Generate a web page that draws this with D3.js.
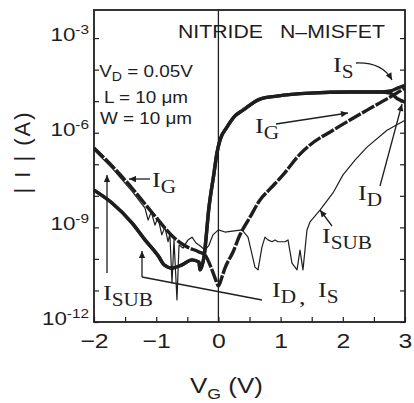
<!DOCTYPE html>
<html>
<head>
<meta charset="utf-8">
<script src="https://cdn.jsdelivr.net/npm/d3@7"></script>
<style>
  body { margin: 0; background: #fff; }
  svg { display: block; }
</style>
</head>
<body>
<svg id="chart" width="414" height="403"></svg>
<script>
// values (V_G in volts, currents in amps)
var vgDS = [-2.0, -1.71, -1.39, -1.18, -0.955, -0.875, -0.746, -0.585, -0.424, -0.312, -0.296, -0.232,
            -0.151, -0.071, -0.023, 0.026, 0.138, 0.267, 0.395, 0.669, 0.942, 1.473, 2.115, 2.598, 2.76, 2.88, 3.0];
var idVals = [1.51e-8, 5.9e-9, 1.38e-9, 4.0e-10, 1.15e-10, 6.5e-11, 5.1e-11, 6.5e-11, 9.3e-11, 7.9e-11, 4.5e-11, 1.15e-10,
              4.4e-9, 5.2e-8, 2.3e-7, 5.9e-7, 1.5e-6, 3.4e-6, 5.2e-6, 1.17e-5, 1.45e-5, 1.8e-5, 1.95e-5, 1.95e-5, 1.8e-5, 1.2e-5, 9.3e-6];
var isVals = [1.51e-8, 5.9e-9, 1.38e-9, 4.0e-10, 1.15e-10, 6.5e-11, 5.1e-11, 6.5e-11, 9.3e-11, 7.9e-11, 4.5e-11, 1.15e-10,
              4.4e-9, 5.2e-8, 2.3e-7, 5.9e-7, 1.5e-6, 3.4e-6, 5.2e-6, 1.17e-5, 1.45e-5, 1.8e-5, 1.95e-5, 1.95e-5, 2.1e-5, 2.6e-5, 3.2e-5];

var vgG = [-2.0, -1.71, -1.39, -1.18, -0.955, -0.746, -0.537, -0.312, -0.215, -0.103, -0.04, 0, 0.058,
           0.106, 0.235, 0.347, 0.508, 0.669, 0.830, 1.039, 1.312, 1.473, 1.842, 2.39, 2.76, 3.0];
var igVals = [3.3e-7, 8.8e-8, 1.77e-8, 5.5e-9, 1.6e-9, 5.4e-10, 2.6e-10, 1.66e-10, 1.32e-10, 4.5e-11, 2.1e-11, 1.4e-11, 2.7e-11,
              5.1e-11, 1.66e-10, 5.8e-10, 2.1e-9, 7.4e-9, 1.65e-8, 4.6e-8, 2.1e-7, 4.1e-7, 1.2e-6, 5.2e-6, 1.35e-5, 2.6e-5];

var vgSub = [-2.0, -1.71, -1.39, -1.18, -1.13, -1.08, -1.02, -0.97, -0.91, -0.86, -0.81, -0.78, -0.746, -0.714,
             -0.666, -0.633, -0.569, -0.489, -0.424, -0.36, -0.296, -0.215, -0.151, -0.087, 0, 0.106, 0.379, 0.476,
             0.588, 0.637, 0.701, 0.749, 0.797, 0.862, 0.910, 0.958, 1.071, 1.119, 1.183, 1.264, 1.312, 1.360,
             1.424, 1.473, 1.633, 1.842, 2.003, 2.196, 2.389, 2.711, 3.0];
var isubVals = [2.8e-7, 7.6e-8, 1.4e-8, 4.1e-9, 1.7e-9, 3.1e-9, 1.18e-9, 2.0e-9, 5.8e-10, 1.0e-9, 3.5e-10, 6.2e-10, 1.74e-11, 4.0e-10,
                5.0e-12, 2.75e-10, 2.2e-10, 4.0e-10, 4.9e-10, 3.2e-10, 2.6e-10, 1.9e-10, 2.75e-10, 5.8e-10, 8.3e-10, 7.1e-10, 8.3e-10, 4.9e-10,
                5.5e-11, 4.5e-11, 2.4e-10, 4.9e-10, 4.0e-10, 3.5e-10, 4.0e-10, 3.5e-10, 3.5e-10, 4.0e-10, 7.4e-11, 4.5e-11, 1.9e-10, 4.5e-11,
                8.3e-10, 1.48e-9, 3.5e-9, 1.23e-8, 4.6e-8, 1.35e-7, 3.5e-7, 1.2e-6, 2.5e-6];

var xTickVals = [-2, -1.5, -1, -0.5, 0, 0.5, 1, 1.5, 2, 2.5, 3];
var yTickVals = [1e-12, 1e-11, 1e-10, 1e-9, 1e-8, 1e-7, 1e-6, 1e-5, 1e-4, 1e-3];
var yLabelExps = [-3, -6, -9, -12];

var svg = d3.select("#chart");
var ink = "#1e1e1e";
var sans = "'Liberation Sans', Arial, sans-serif";
var serif = "'Liberation Serif', 'Times New Roman', serif";
var sx = 1.18; // the scan is stretched sideways, so text is too

var x = d3.scaleLinear().domain([-2, 3]).range([94, 405]);
var y = d3.scaleLog().domain([1e-12, Math.pow(10, -2.11)]).range([322, 10]);

var defs = svg.append("defs");
defs.append("marker")
    .attr("id", "head")
    .attr("viewBox", "0 0 10 10")
    .attr("refX", 10).attr("refY", 5)
    .attr("markerWidth", 8).attr("markerHeight", 7)
    .attr("markerUnits", "userSpaceOnUse")
    .attr("orient", "auto")
  .append("path")
    .attr("d", "M0,0.5 L10,5 L0,9.5 Z")
    .attr("fill", ink);

function txt(px, py, size, family, anchor) {
    return svg.append("text")
        .attr("transform", "translate(" + px + "," + py + ") scale(" + sx + ",1)")
        .attr("text-anchor", anchor || "start")
        .style("font-size", size + "px")
        .style("font-family", family)
        .attr("fill", ink);
}

// axes: ticks point inward
var gx = svg.append("g")
    .attr("transform", "translate(0," + y.range()[0] + ")")
    .call(d3.axisBottom(x).tickValues(xTickVals).tickSizeInner(-5).tickSizeOuter(0).tickPadding(11)
        .tickFormat(function(d) { return Number.isInteger(d) ? d3.format("")(d) : ""; }));
gx.select(".domain").remove();
gx.selectAll("line").attr("stroke", ink).attr("stroke-width", 1.2);
gx.selectAll("text")
    .attr("transform", "scale(" + sx + ",1)")
    .style("font-size", "21px").style("font-family", sans).attr("fill", ink);

var gl = svg.append("g")
    .attr("transform", "translate(" + x.range()[0] + ",0)")
    .call(d3.axisLeft(y).tickValues(yTickVals).tickSizeInner(-5).tickSizeOuter(0).tickFormat(""));
var gr = svg.append("g")
    .attr("transform", "translate(" + x.range()[1] + ",0)")
    .call(d3.axisRight(y).tickValues(yTickVals).tickSizeInner(-5).tickSizeOuter(0).tickFormat(""));
[gl, gr].forEach(function(g) {
    g.select(".domain").remove();
    g.selectAll("line").attr("stroke", ink).attr("stroke-width", 1.2);
});

yLabelExps.forEach(function(e) {
    var t = txt(89, y(Math.pow(10, e)) + 3, 19, sans, "end");
    t.append("tspan").text("10");
    t.append("tspan").attr("dy", -7).style("font-size", "13px").text("-" + Math.abs(e));
});

// frame and the V_G = 0 line
svg.append("rect")
    .attr("x", x.range()[0]).attr("y", y.range()[1])
    .attr("width", x.range()[1] - x.range()[0])
    .attr("height", y.range()[0] - y.range()[1])
    .attr("fill", "none").attr("stroke", ink).attr("stroke-width", 1.8);
svg.append("line")
    .attr("x1", x(0)).attr("x2", x(0))
    .attr("y1", y.range()[1]).attr("y2", y.range()[0])
    .attr("stroke", ink).attr("stroke-width", 1.3);

// curves
var line = d3.line().x(function(d) { return x(d[0]); }).y(function(d) { return y(d[1]); });

svg.append("path")
    .datum(d3.zip(vgSub, isubVals))
    .attr("d", line.curve(d3.curveLinear))
    .attr("fill", "none").attr("stroke", ink).attr("stroke-width", 1.2)
    .attr("stroke-linejoin", "round");

svg.append("path")
    .datum(d3.zip(vgG, igVals))
    .attr("d", line.curve(d3.curveMonotoneX))
    .attr("fill", "none").attr("stroke", ink).attr("stroke-width", 3.4)
    .attr("stroke-dasharray", "14,1.6");

[idVals, isVals].forEach(function(vals) {
    svg.append("path")
        .datum(d3.zip(vgDS, vals))
        .attr("d", line.curve(d3.curveMonotoneX))
        .attr("fill", "none").attr("stroke", ink).attr("stroke-width", 3.4)
        .attr("stroke-linejoin", "round");
});

// leader lines and arrows
var leaders = [
    { d: "M150,179 L129,179", head: true },
    { d: "M107,273 L107,175", head: true },
    { d: "M142,277 L142,251", head: true },
    { d: "M142,277 L262,300", head: false },
    { d: "M276,124 L348,113", head: true },
    { d: "M356,63 Q382,62 392,80", head: true },
    { d: "M380,186 L402,104", head: true },
    { d: "M332,226 L320,210", head: true }
];
leaders.forEach(function(a) {
    svg.append("path")
        .attr("d", a.d)
        .attr("fill", "none").attr("stroke", ink).attr("stroke-width", 1.3)
        .attr("marker-end", a.head ? "url(#head)" : null);
});

// current labels (serif I with subscript)
var currentLabels = [
    { sub: "G", px: 152, py: 187 },
    { sub: "SUB", px: 103, py: 300 },
    { sub: "D", px: 272, py: 297 },
    { sub: "S", px: 318, py: 297 },
    { sub: "SUB", px: 322, py: 243 },
    { sub: "D", px: 358, py: 200 },
    { sub: "G", px: 255, py: 133 },
    { sub: "S", px: 333, py: 72 }
];
currentLabels.forEach(function(l) {
    var t = txt(l.px, l.py, 22, serif);
    t.append("tspan").text("I");
    t.append("tspan").attr("dy", 6).style("font-size", "18px").text(l.sub);
});
txt(299, 304, 22, serif).text(",");

// header and conditions
txt(178, 38, 18, sans).text("NITRIDE");
txt(280, 38, 18, sans).text("N\u2013MISFET");

var vd = txt(146, 77, 16, sans, "middle");
vd.append("tspan").text("V");
vd.append("tspan").attr("dy", 4).style("font-size", "12px").text("D");
vd.append("tspan").attr("dy", -4).text(" = 0.05V");
txt(146, 103, 16, sans, "middle").text("L = 10 \u03bcm");
txt(146, 124, 16, sans, "middle").text("W = 10 \u03bcm");

// axis titles
var xt = txt(190, 393, 22, sans);
xt.append("tspan").text("V");
xt.append("tspan").attr("dy", 6).style("font-size", "15px").text("G");
xt.append("tspan").attr("dy", -6).text(" (V)");

svg.append("text")
    .attr("transform", "translate(30,152) rotate(-90)")
    .attr("text-anchor", "middle")
    .style("font-size", "22px").style("font-family", sans)
    .style("letter-spacing", "2px")
    .attr("fill", ink)
    .text("| I |  (A)");
</script>
</body>
</html>
